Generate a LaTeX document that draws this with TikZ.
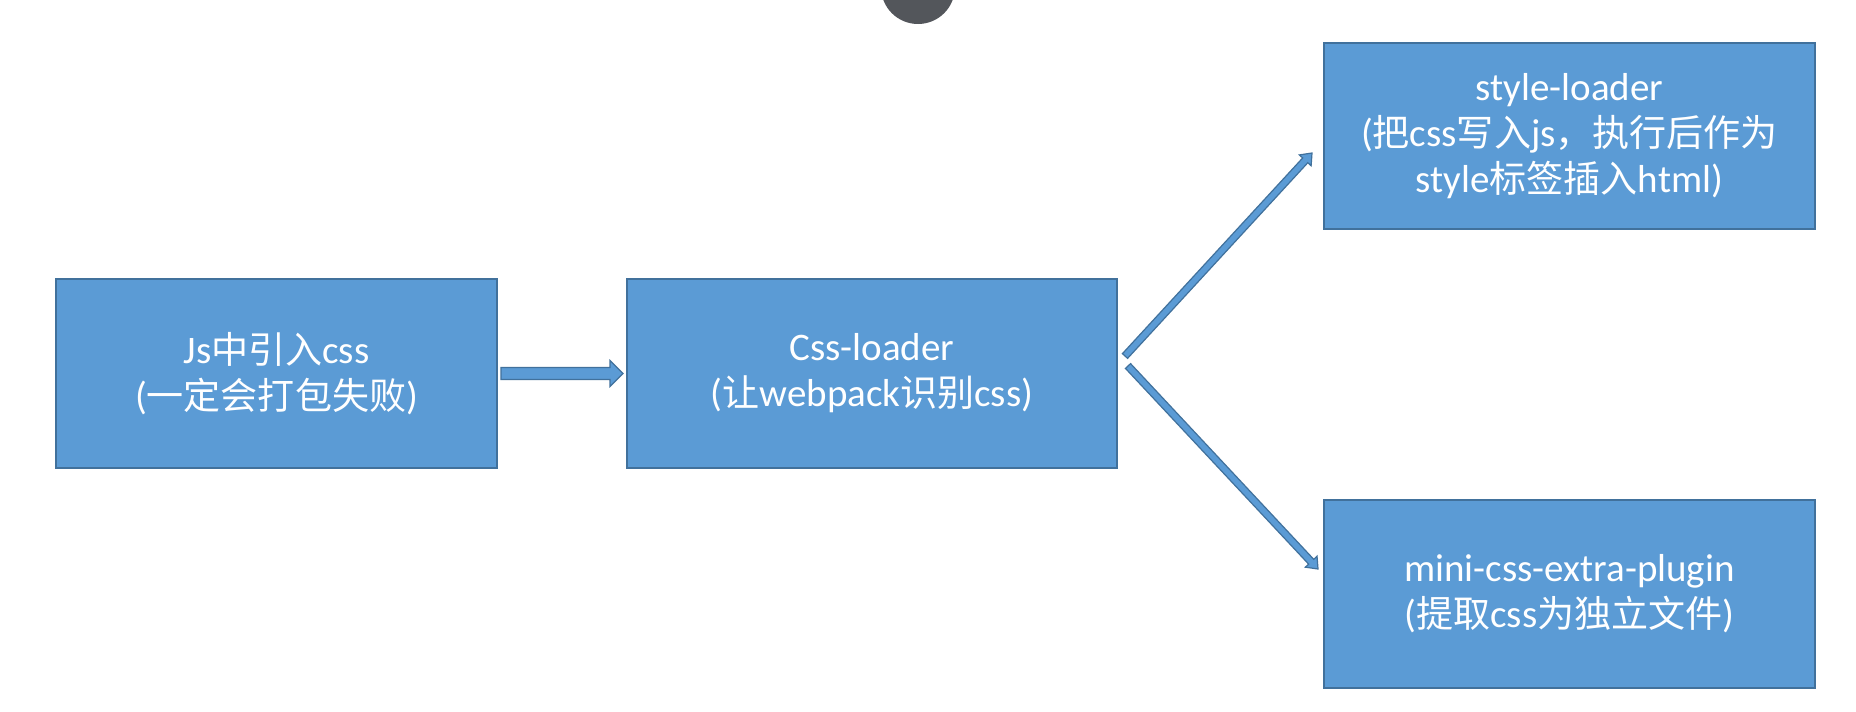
\documentclass[tikz,border=0pt]{standalone}
\usepackage{fontspec}
\setmainfont{Carlito}
\newfontfamily\cjkfont[Scale=0.95]{Noto Sans CJK SC}
\newcommand\zh[1]{{\cjkfont #1}}
\usetikzlibrary{calc}
\definecolor{boxfill}{HTML}{5B9BD5}
\definecolor{boxline}{HTML}{41719C}
\definecolor{dotgray}{HTML}{53565B}
\tikzset{
  box/.style={draw=boxline, fill=boxfill, line width=2pt, text=white, align=center,
    font=\fontsize{39}{46}\selectfont, inner sep=0pt},
  blockarrow/.style={draw=boxline, fill=boxfill, line width=1.2pt, line join=miter},
}
% start, end, shaft half width, head half width, head length
\newcommand\blockarrow[5]{%
  \draw[blockarrow] let \p1=(#1), \p2=(#2),
    \n1={atan2(\y2-\y1,\x2-\x1)}, \n2={veclen(\x2-\x1,\y2-\y1)} in
    [shift={(\p1)}, rotate=\n1]
    (0,-#3) -- ({\n2-#5},-#3) -- ({\n2-#5},-#4) -- (\n2,0) -- ({\n2-#5},#4)
    -- ({\n2-#5},#3) -- (0,#3) -- cycle;}
\begin{document}
\begin{tikzpicture}[x=1pt,y=-1pt]
\useasboundingbox (0,0) rectangle (1856,712);
\clip (0,0) rectangle (1856,712);
\fill[white] (0,0) rectangle (1856,712);
\node[circle, fill=dotgray, minimum size=74pt, inner sep=0pt] (dot) at (918,-13) {};

\node[box, minimum width=441pt, minimum height=189pt] (b1) at (276.5,373.5)
  {Js\zh{中引入}css\\(\zh{一定会打包失败})};
\node[box, minimum width=490pt, minimum height=189pt] (b2) at (872,373.5)
  {Css-loader\\(\zh{让}webpack\zh{识别}css)};
\node[box, minimum width=491pt, minimum height=186pt] (b3) at (1569.5,136)
  {style-loader\\(\zh{把}css\zh{写入}js\zh{，执行后作为}\\style\zh{标签插入}html)};
\node[box, minimum width=491pt, minimum height=188pt] (b4) at (1569.5,594)
  {mini-css-extra-plugin\\(\zh{提取}css\zh{为独立文件})};

\coordinate (a1s) at ($(b1.east)+(3,0)$);
\coordinate (a1e) at ($(b2.west)+(-3,0)$);
\coordinate (a2s) at ($(b2.east)+(7,-17.5)$);
\coordinate (a2e) at ($(b3.west)+(-11,17)$);
\coordinate (a3s) at ($(b2.east)+(10,-7.5)$);
\coordinate (a3e) at ($(b4.west)+(-5,-25)$);

\blockarrow{a1s}{a1e}{6}{13}{13}
\blockarrow{a2s}{a2e}{3.5}{8}{10}
\blockarrow{a3s}{a3e}{3.5}{8}{10}
\end{tikzpicture}
\end{document}
